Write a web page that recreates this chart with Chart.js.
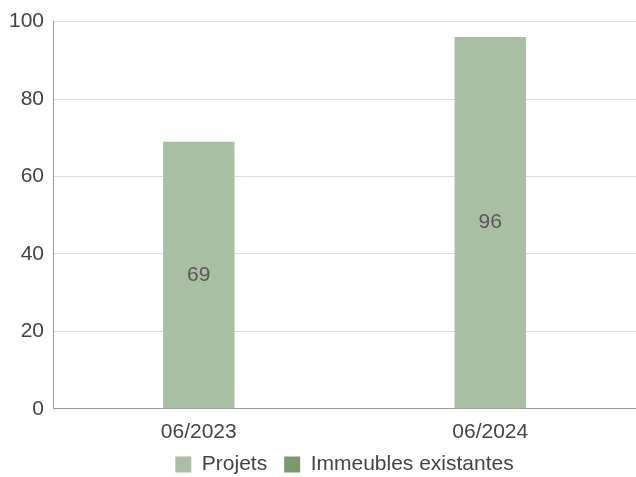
<!DOCTYPE html>
<html>
<head>
<meta charset="utf-8">
<script src="https://cdn.jsdelivr.net/npm/chart.js@4"></script>
<style>
  html, body { margin: 0; padding: 0; background: #fff; }
  #wrap { width: 636px; height: 477px; }
</style>
</head>
<body>
<div id="wrap"><canvas id="chart"></canvas></div>
<script>
var categories = ['06/2023', '06/2024'];
var projets = [69, 96];
var immeubles = [0, 0];
var yTicks = [0, 20, 40, 60, 80, 100];

// draws the value in the middle of each visible bar
var midLabels = {
  id: 'midLabels',
  afterDatasetsDraw: function (chart) {
    var ctx = chart.ctx;
    ctx.save();
    ctx.font = '21px "Liberation Sans", Arial, sans-serif';
    ctx.fillStyle = '#595959';
    ctx.textAlign = 'center';
    ctx.textBaseline = 'middle';
    chart.data.datasets.forEach(function (ds, i) {
      var meta = chart.getDatasetMeta(i);
      if (meta.hidden) return;
      meta.data.forEach(function (bar, j) {
        if (!ds.data[j]) return;
        ctx.fillText(ds.data[j], bar.x, (bar.y + bar.base) / 2);
      });
    });
    ctx.restore();
  }
};

// center the legend under the plot area and pull it up a bit
var legendUnderPlot = {
  id: 'legendUnderPlot',
  afterLayout: function (chart) {
    var l = chart.legend;
    l.left = chart.chartArea.left;
    l.right = chart.chartArea.right;
    l.top -= 11;
    l.bottom -= 11;
  }
};

new Chart(
  document.getElementById('chart'),
  {
    type: 'bar',
    plugins: [midLabels, legendUnderPlot],
    data: {
      labels: categories,
      datasets: [
        {
          label: 'Projets',
          data: projets,
          backgroundColor: '#a9bfa1',
          categoryPercentage: 1,
          barPercentage: 0.245
        },
        {
          label: 'Immeubles existantes',
          data: immeubles,
          backgroundColor: '#7a9a6e',
          categoryPercentage: 1,
          barPercentage: 0.245
        }
      ]
    },
    options: {
      responsive: true,
      maintainAspectRatio: false,
      animation: false,
      layout: {
        padding: { top: 1, right: 0, left: 0, bottom: -19 }
      },
      plugins: {
        legend: {
          position: 'bottom',
          labels: {
            boxWidth: 16,
            boxHeight: 16,
            padding: 17,
            color: '#444',
            font: { size: 21, family: '"Liberation Sans", Arial, sans-serif' }
          }
        },
        tooltip: { enabled: false }
      },
      scales: {
        x: {
          stacked: true,
          grid: { display: false },
          border: { color: '#9a9a9a' },
          ticks: {
            color: '#444',
            padding: 3,
            font: { size: 21, family: '"Liberation Sans", Arial, sans-serif' }
          }
        },
        y: {
          stacked: true,
          min: 0,
          max: 100,
          afterBuildTicks: function (axis) {
            axis.ticks = yTicks.map(function (v) { return { value: v }; });
          },
          grid: { color: '#dcdcdc', drawTicks: false },
          border: { color: '#9a9a9a' },
          ticks: {
            color: '#444',
            padding: 9,
            font: { size: 21, family: '"Liberation Sans", Arial, sans-serif' }
          }
        }
      }
    }
  }
);
</script>
</body>
</html>
